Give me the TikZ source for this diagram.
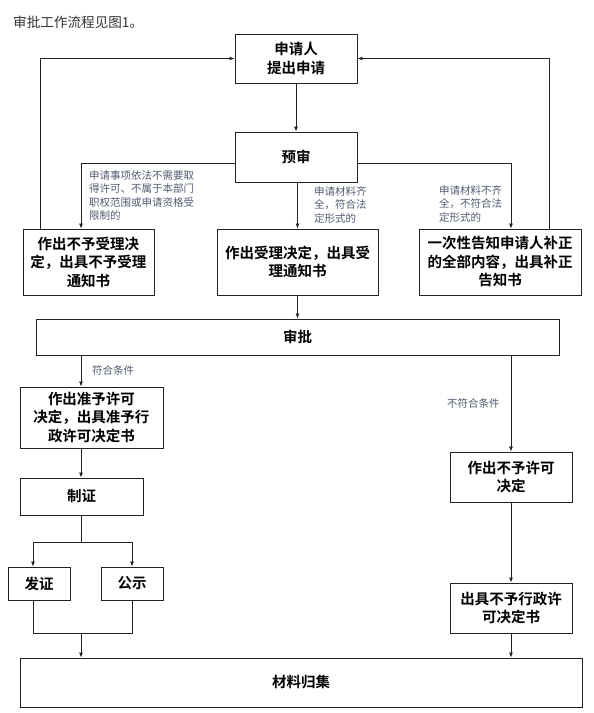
\documentclass[tikz,border=0pt]{standalone}
\usepackage{fontspec}
\setmainfont{Noto Sans CJK SC}[BoldFont={Noto Sans CJK SC Bold}]
\usetikzlibrary{arrows.meta}
\definecolor{lbl}{HTML}{505A70}
\definecolor{ln}{HTML}{222222}
\tikzset{
  box/.style={draw=ln, line width=0.9pt, align=center, inner sep=0pt,
    font=\fontsize{14.5}{18.5}\selectfont\bfseries},
  arr/.style={draw=ln, line width=0.8pt, -{Latex[length=5pt,width=4pt]}},
  ln/.style={draw=ln, line width=0.8pt},
  lab/.style={text=lbl, align=left, inner sep=0pt, font=\fontsize{10.5}{13.6}\selectfont},
}
\begin{document}
\begin{tikzpicture}[x=1pt,y=-1pt]
\useasboundingbox (0,0) rectangle (594,713);
\node[anchor=west, inner sep=0pt, text=black!80, font=\fontsize{13.6}{15}\selectfont] (title) at (13,22) {审批工作流程见图1。};

\node[box, minimum width=122pt, minimum height=49pt] (A) at (296,58.5) {申请人\\提出申请};
\node[box, minimum width=122pt, minimum height=50pt] (B) at (296,157) {预审};
\node[box, minimum width=131pt, minimum height=66pt] (L1) at (88.5,262) {作出不予受理决\\定，出具不予受理\\通知书};
\node[box, minimum width=161pt, minimum height=66pt] (C) at (297.5,262) {作出受理决定，出具受\\理通知书};
\node[box, minimum width=162pt, minimum height=66pt] (R1) at (500,262) {一次性告知申请人补正\\的全部内容，出具补正\\告知书};
\node[box, minimum width=523pt, minimum height=36pt] (SP) at (297.5,337) {审批};
\node[box, minimum width=143pt, minimum height=61pt] (Z) at (91.5,417.5) {作出准予许可\\决定，出具准予行\\政许可决定书};
\node[box, minimum width=122pt, minimum height=50pt] (N) at (511,477) {作出不予许可\\决定};
\node[box, minimum width=123pt, minimum height=37pt] (ZZ) at (81.5,496.5) {制证};
\node[box, minimum width=62pt, minimum height=33pt] (FZ) at (39,583.5) {发证};
\node[box, minimum width=62pt, minimum height=33pt] (GS) at (132,583.5) {公示};
\node[box, minimum width=122pt, minimum height=50pt] (NS) at (511,608) {出具不予行政许\\可决定书};
\node[box, minimum width=562pt, minimum height=49pt] (CL) at (301,682.5) {材料归集};

% labels
\node[lab, anchor=north west] (t1) at (89,170) {申请事项依法不需要取\\得许可、不属于本部门\\职权范围或申请资格受\\限制的};
\node[lab, anchor=north west] (t2) at (314,186) {申请材料齐\\全，符合法\\定形式的};
\node[lab, anchor=north west] (t3) at (439,185) {申请材料不齐\\全，不符合法\\定形式的};
\node[lab, anchor=west] (t4) at (92,370) {符合条件};
\node[lab, anchor=west] (t5) at (447,403) {不符合条件};

% helper coordinates
\coordinate (xL) at (40,0);
\coordinate (xR) at (549,0);
\coordinate (x81) at (81,0);
\coordinate (x511) at (511,0);
\coordinate (x33) at (33,0);
\coordinate (y163) at (0,163);
\coordinate (jz) at (81.5,542);
\coordinate (jb) at (81,633);

% connectors
\draw[arr] (A.south) -- (B.north);
\draw[arr] (L1.north -| xL) |- (A.west);
\draw[arr] (R1.north -| xR) |- (A.east);
\draw[arr] (B.west |- y163) -| (L1.north -| x81);
\draw[arr] (B.east |- y163) -| (R1.north -| x511);
\draw[arr] (B.south -| C.north) -- (C.north);
\draw[arr] (C.south) -- (C.south |- SP.north);
\draw[arr] (SP.south -| x81) -- (Z.north -| x81);
\draw[arr] (SP.south -| N.north) -- (N.north);
\draw[arr] (Z.south -| x81) -- (ZZ.north -| x81);
\draw[ln] (ZZ.south) -- (jz);
\draw[arr] (jz) -| (FZ.north -| x33);
\draw[arr] (jz) -| (GS.north);
\draw[ln] (FZ.south -| x33) |- (jb);
\draw[ln] (GS.south) |- (jb);
\draw[arr] (jb) -- (CL.north -| jb);
\draw[arr] (N.south) -- (NS.north);
\draw[arr] (NS.south) -- (CL.north -| NS.south);
\end{tikzpicture}
\end{document}
